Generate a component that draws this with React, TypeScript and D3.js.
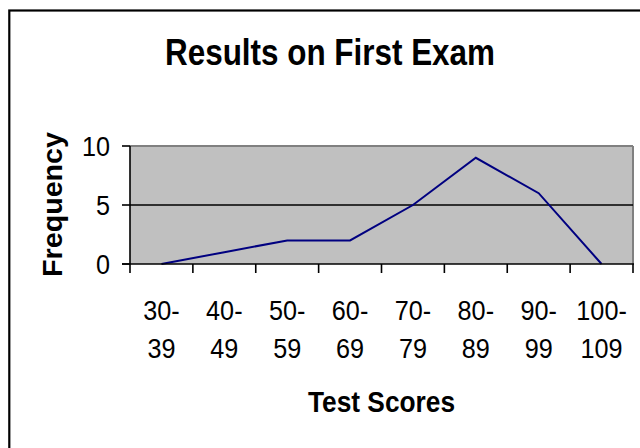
import React from "react";
import * as d3 from "d3";

// chart data
const categories = ["30-39", "40-49", "50-59", "60-69", "70-79", "80-89", "90-99", "100-109"];
const frequency = [0, 1, 2, 2, 5, 9, 6, 0];
const yTicks = [0, 5, 10];

const W = 640;
const H = 448;
const FONT = "'Liberation Sans', Arial, sans-serif";

const plot = { left: 130, right: 633, top: 146, bottom: 264 };

// the reference text is slightly condensed, like a scaled Excel chart
const SQUEEZE = "scale(0.9,1)";

const App = () => {
  const x = d3.scaleBand<string>().domain(categories).range([plot.left, plot.right]).padding(0);
  const y = d3.scaleLinear().domain([0, 10]).range([plot.bottom, plot.top]);

  const points: [number, number][] = categories.map((c, i) => [
    (x(c) as number) + x.bandwidth() / 2,
    y(frequency[i]),
  ]);
  const line = d3.line()(points) as string;

  // tick marks sit on the category boundaries
  const boundaries = categories.map((c) => x(c) as number).concat([plot.right]);

  return (
    <div style={{ position: "fixed", left: 0, top: 0, width: W, height: H, background: "#fff" }}>
      <svg width={W} height={H} style={{ display: "block" }} fontFamily={FONT}>
        <rect x={0} y={0} width={W} height={H} fill="#fff" />
        {/* outer chart border, runs off the right and bottom */}
        <rect x={9.3} y={10.5} width={700} height={500} fill="none" stroke="#000" strokeWidth={2.2} />

        <text
          x={330}
          y={65}
          textAnchor="middle"
          fontSize={36}
          fontWeight="bold"
          textLength={330}
          lengthAdjust="spacingAndGlyphs"
        >
          Results on First Exam
        </text>

        {/* plot area */}
        <rect
          x={plot.left}
          y={plot.top}
          width={plot.right - plot.left}
          height={plot.bottom - plot.top}
          fill="#C0C0C0"
        />
        <line x1={plot.left} x2={plot.right} y1={plot.top} y2={plot.top} stroke="#808080" strokeWidth={2} />
        <line x1={plot.right} x2={plot.right} y1={plot.top} y2={plot.bottom} stroke="#808080" strokeWidth={2} />
        <line x1={plot.left} x2={plot.right} y1={y(5)} y2={y(5)} stroke="#000" strokeWidth={1.6} />

        <path d={line} fill="none" stroke="#000080" strokeWidth={2} strokeLinejoin="miter" />

        {/* axes */}
        <line x1={plot.left} x2={plot.left} y1={plot.top} y2={plot.bottom} stroke="#000" strokeWidth={1.6} />
        <line x1={plot.left - 8} x2={plot.right + 1} y1={plot.bottom} y2={plot.bottom} stroke="#000" strokeWidth={1.6} />
        {yTicks.map((t) => (
          <g key={t}>
            <line x1={plot.left - 8} x2={plot.left} y1={y(t)} y2={y(t)} stroke="#000" strokeWidth={1.6} />
            <g transform={`translate(110,${y(t)}) ${SQUEEZE}`}>
              <text dy="0.36em" textAnchor="end" fontSize={28}>
                {t}
              </text>
            </g>
          </g>
        ))}
        {boundaries.map((b, i) => (
          <line key={i} x1={b} x2={b} y1={plot.bottom} y2={plot.bottom + 9} stroke="#000" strokeWidth={1.6} />
        ))}
        {categories.map((c) => {
          const [lo, hi] = c.split("-");
          const cx = (x(c) as number) + x.bandwidth() / 2;
          return (
            <g key={c} fontSize={28} textAnchor="middle">
              <g transform={`translate(${cx},320) ${SQUEEZE}`}>
                <text>{lo + "-"}</text>
              </g>
              <g transform={`translate(${cx},358) ${SQUEEZE}`}>
                <text>{hi}</text>
              </g>
            </g>
          );
        })}

        <text
          x={381.5}
          y={412}
          textAnchor="middle"
          fontSize={29}
          fontWeight="bold"
          textLength={147}
          lengthAdjust="spacingAndGlyphs"
        >
          Test Scores
        </text>
        <text
          transform="translate(62,204.5) rotate(-90)"
          textAnchor="middle"
          fontSize={27}
          fontWeight="bold"
          textLength={145}
          lengthAdjust="spacingAndGlyphs"
        >
          Frequency
        </text>
      </svg>
    </div>
  );
};

export default App;
